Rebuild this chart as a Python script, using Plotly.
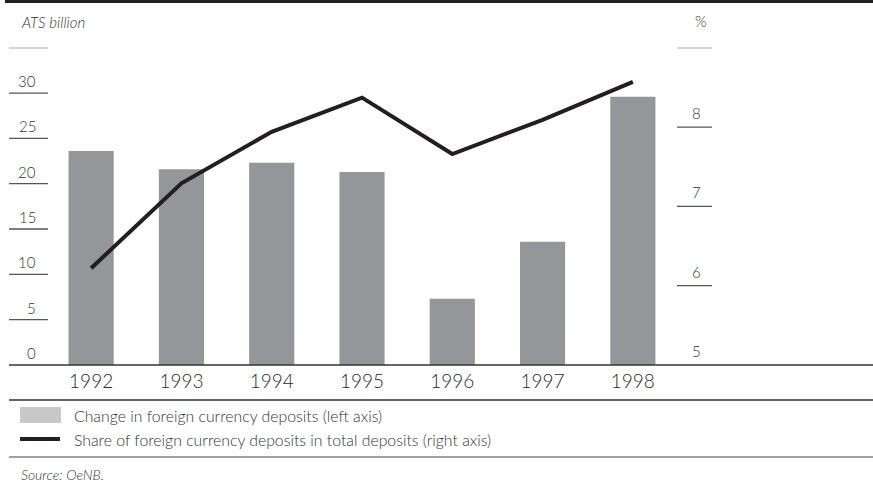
import plotly.graph_objects as go

years = ['1992', '1993', '1994', '1995', '1996', '1997', '1998']
deposit_change = [23.6, 21.6, 22.3, 21.3, 7.3, 13.6, 29.6]   # ATS billion, left axis
foreign_share = [6.22, 7.29, 7.94, 8.37, 7.66, 8.09, 8.57]    # %, right axis

left_ticks = [0, 5, 10, 15, 20, 25, 30, 35]
left_labels = ['0', '5', '10', '15', '20', '25', '30', '']
right_ticks = [5, 6, 7, 8, 9]
right_labels = ['5', '6', '7', '8', '']

W, H = 873, 482
FONT = 'Lato'
TXT = '#333333'


def px(x):
    return x / W


def py(y):
    return 1 - y / H


def f(size, color=TXT):
    return dict(family=FONT, size=size, color=color, weight=300)


bars = go.Bar(
    x=years, y=deposit_change,
    marker=dict(color='#959699', line=dict(width=0)),
    width=0.5,
    name='Change in foreign currency deposits (left axis)',
    showlegend=False,
)
line = go.Scatter(
    x=years, y=foreign_share,
    mode='lines',
    line=dict(color='#231f20', width=4),
    yaxis='y2',
    name='Share of foreign currency deposits in total deposits (right axis)',
    showlegend=False,
)

shapes = []
annotations = []

# left axis tick lines and labels
for v, lab in zip(left_ticks, left_labels):
    if v != 0:
        shapes.append(dict(type='line', xref='paper', yref='y', x0=px(9), x1=px(48),
                           y0=v, y1=v, line=dict(color='#555555', width=1.3)))
    if lab:
        annotations.append(dict(xref='paper', yref='y', x=px(38), y=v, text=lab,
                                showarrow=False, xanchor='right', yanchor='bottom',
                                yshift=1, font=f(15)))

# right axis tick lines and labels
for v, lab in zip(right_ticks, right_labels):
    if v != 5:
        shapes.append(dict(type='line', xref='paper', yref='y2', x0=px(677), x1=px(712),
                           y0=v, y1=v, line=dict(color='#555555', width=1.3)))
    if lab:
        annotations.append(dict(xref='paper', yref='y2', x=px(696), y=v, text=lab,
                                showarrow=False, xanchor='center', yanchor='bottom',
                                yshift=3, font=f(15)))

# frame lines
shapes += [
    dict(type='rect', xref='paper', yref='paper', x0=px(5), x1=px(873), y0=py(3), y1=py(0),
         fillcolor='#231f20', line=dict(width=0)),
    dict(type='line', xref='paper', yref='paper', x0=px(9), x1=px(873), y0=py(365), y1=py(365),
         line=dict(color='#333333', width=1.5)),
    dict(type='line', xref='paper', yref='paper', x0=px(9), x1=px(873), y0=py(400), y1=py(400),
         line=dict(color='#333333', width=1.5)),
    dict(type='line', xref='paper', yref='paper', x0=px(9), x1=px(873), y0=py(457), y1=py(457),
         line=dict(color='#444444', width=1.2)),
    # legend keys
    dict(type='rect', xref='paper', yref='paper', x0=px(20), x1=px(61), y0=py(423), y1=py(407),
         fillcolor='#c8c8ca', line=dict(width=0)),
    dict(type='line', xref='paper', yref='paper', x0=px(20), x1=px(60), y0=py(439), y1=py(439),
         line=dict(color='#231f20', width=4)),
]

annotations += [
    dict(xref='paper', yref='paper', x=px(19), y=py(22), text='<i>ATS billion</i>',
         showarrow=False, xanchor='left', yanchor='middle', font=f(15)),
    dict(xref='paper', yref='paper', x=px(701), y=py(21), text='%',
         showarrow=False, xanchor='center', yanchor='middle', font=f(15)),
    dict(xref='paper', yref='paper', x=px(72), y=py(415), text=bars.name,
         showarrow=False, xanchor='left', yanchor='middle', font=f(15.8)),
    dict(xref='paper', yref='paper', x=px(72), y=py(439), text=line.name,
         showarrow=False, xanchor='left', yanchor='middle', font=f(15.8)),
    dict(xref='paper', yref='paper', x=px(19), y=py(474), text='<i>Source: OeNB.</i>',
         showarrow=False, xanchor='left', yanchor='middle', font=f(14)),
]

layout = go.Layout(
    width=W, height=H,
    margin=dict(l=0, r=0, t=0, b=0),
    paper_bgcolor='white', plot_bgcolor='white',
    font=dict(family=FONT, color=TXT),
    xaxis=dict(domain=[px(46), px(678)], range=[-0.5, 6.5], type='category',
               showgrid=False, showline=False, zeroline=False, ticks='',
               tickfont=f(19, '#2a2a2a'), ticklabelstandoff=3, automargin=False),
    yaxis=dict(domain=[py(365), py(47.7)], range=[0, 35], showgrid=False,
               showline=False, zeroline=False, showticklabels=False, ticks='',
               automargin=False),
    yaxis2=dict(domain=[py(365), py(47.7)], range=[5, 9], overlaying='y', side='right',
                showgrid=False, showline=False, zeroline=False, showticklabels=False,
                ticks='', automargin=False),
    shapes=shapes,
    annotations=annotations,
    showlegend=False,
)

fig = go.Figure(data=[bars, line], layout=layout)
# drop the browser's default 8px body margin so the figure sits at the page corner
fig.write_html('out.html', config={'displayModeBar': False},
               post_script="document.body.style.margin='0';")
